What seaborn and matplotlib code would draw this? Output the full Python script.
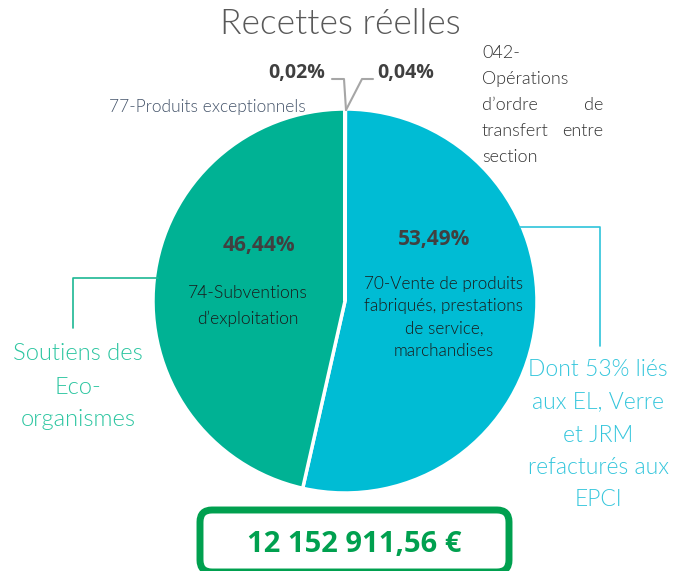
import matplotlib
matplotlib.use("Agg")
import matplotlib.pyplot as plt
import seaborn as sns
from matplotlib.patches import FancyBboxPatch

sns.set_theme(style="white")
plt.rcParams['font.family'] = ['Lato', 'DejaVu Sans']

# ---- data ----
categories = ["042-Opérations d'ordre de transfert entre section",
              "70-Vente de produits fabriqués, prestations de service, marchandises",
              "74-Subventions d'exploitation",
              "77-Produits exceptionnels"]
values = [0.04, 53.49, 46.44, 0.02]
slice_colors = ["#00BCD4", "#00BCD4", "#00B294", "#00B294"]
total_label = "12 152 911,56 €"
title = "Recettes réelles"

W, H = 687, 571
def Y(py):
    return H - py

fig = plt.figure(figsize=(W / 100, H / 100), dpi=100)
ax = fig.add_axes([0, 0, 1, 1])

ax.pie(values, colors=slice_colors, startangle=90, counterclock=False,
       center=(345, Y(301)), radius=192,
       wedgeprops=dict(edgecolor="white", linewidth=2.5))
ax.set_xlim(0, W)
ax.set_ylim(0, H)
ax.set_aspect("auto")
ax.axis("off")

def pct(v):
    return f"{v:.2f}%".replace(".", ",")

def lines(x, ys, texts, **kw):
    for yy, t in zip(ys, texts):
        ax.text(x, Y(yy), t, ha="center", va="center_baseline", **kw)

LW = 300  # light weight
dark = "#404040"
bold_font = ['Open Sans', 'DejaVu Sans']
# title
ax.text(340, Y(24), title, ha="center", va="center", fontsize=25.5,
        fontweight=LW, color="#595959")

# in-slice labels
ax.text(434, Y(239), pct(values[1]), ha="center", va="center", fontsize=15,
        fontweight="bold", color=dark, family=bold_font)
ax.text(259, Y(245), pct(values[2]), ha="center", va="center", fontsize=15,
        fontweight="bold", color=dark, family=bold_font)
lines(248, [292, 317], ["74-Subventions", "d’exploitation"],
      fontsize=12.6, fontweight=LW, color="#1a1a1a")
lines(444, [283, 305, 327, 349],
      ["70-Vente de produits", "fabriqués, prestations", "de service,", "marchandises"],
      fontsize=12.3, fontweight=LW, color="#1a1a1a")

# small slices labels + leader lines
ax.text(297, Y(73), pct(values[3]), ha="center", va="center", fontsize=14,
        fontweight="bold", color=dark, family=bold_font)
ax.text(406, Y(73), pct(values[0]), ha="center", va="center", fontsize=14,
        fontweight="bold", color=dark, family=bold_font)
ax.plot([332, 344, 346], [Y(79), Y(79), Y(110)], color="#a6a6a6", lw=1.5)
ax.plot([346, 362, 373], [Y(110), Y(79), Y(79)], color="#a6a6a6", lw=1.5)

ax.text(207, Y(107), "77-Produits exceptionnels", ha="center", va="center",
        fontsize=12.5, fontweight=LW, color="#44546A")

c042 = "#333333"
fs042 = 13
ax.text(482, Y(53), "042-", ha="left", va="center", fontsize=fs042, fontweight=LW, color=c042)
ax.text(482, Y(79), "Opérations", ha="left", va="center", fontsize=fs042, fontweight=LW, color=c042)
ax.text(482, Y(105), "d’ordre", ha="left", va="center", fontsize=fs042, fontweight=LW, color=c042)
ax.text(603, Y(105), "de", ha="right", va="center", fontsize=fs042, fontweight=LW, color=c042)
ax.text(482, Y(131), "transfert", ha="left", va="center", fontsize=fs042, fontweight=LW, color=c042)
ax.text(603, Y(131), "entre", ha="right", va="center", fontsize=fs042, fontweight=LW, color=c042)
ax.text(482, Y(157), "section", ha="left", va="center", fontsize=fs042, fontweight=LW, color=c042)

# left callout
green_txt = "#2BC5A0"
ax.plot([158, 73, 73], [Y(278), Y(278), Y(328)], color="#1DB894", lw=1.2)
lines(78, [351, 385, 418], ["Soutiens des", "Eco-", "organismes"],
      fontsize=17, fontweight=LW, color=green_txt)

# right callout
cyan_txt = "#35C6DC"
ax.plot([520, 600, 600], [Y(227), Y(227), Y(346)], color="#2EC3DA", lw=1.2)
lines(598, [368, 400, 433, 466, 498],
      ["Dont 53% liés", "aux EL, Verre", "et JRM", "refacturés aux", "EPCI"],
      fontsize=16.5, fontweight=LW, color=cyan_txt)

# total box
box = FancyBboxPatch((200, Y(572)), 309, 62,
                     boxstyle="round,pad=0,rounding_size=12",
                     fc="white", ec="#00A04F", lw=5, clip_on=False)
ax.add_patch(box)
ax.text(354, Y(545), total_label, ha="center", va="center", fontsize=21,
        fontweight="bold", color="#00A04F", family=bold_font)

fig.savefig("out.png", dpi=100)
